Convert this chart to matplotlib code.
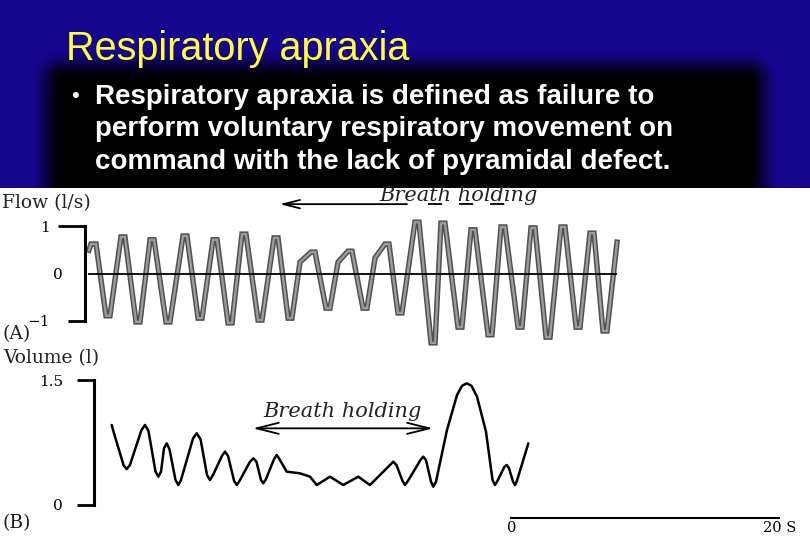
import numpy as np
import matplotlib
matplotlib.use("Agg")
import matplotlib.pyplot as plt
from matplotlib import patheffects as pe
from matplotlib.ticker import FixedLocator, FixedFormatter

# ---------------- data ----------------
title = "Respiratory apraxia"
bullet_lines = [
    "Respiratory apraxia is defined as failure to",
    "perform voluntary respiratory movement on",
    "command with the lack of pyramidal defect.",
]

# (A) airflow trace, time in s, flow in l/s
flow_t = [0.07, 0.22, 0.60, 1.34, 1.64, 2.46, 2.76, 3.58, 3.88, 4.63, 4.93, 5.82, 6.12,
          7.09, 7.39, 8.21, 8.51, 9.33, 9.63, 10.45, 10.75, 11.49, 11.79, 12.69, 12.99,
          13.88, 14.18, 14.93, 15.22, 15.82, 16.64, 16.94, 17.76, 18.06, 18.66, 19.40,
          19.70, 20.52, 20.82, 21.42, 22.16, 22.46, 23.13, 23.43, 24.40, 24.70, 25.60,
          25.90, 26.34, 26.64, 27.61, 27.91, 28.58, 28.88, 29.85, 30.15, 30.82, 31.12,
          32.09, 32.39, 33.06, 33.36, 34.18, 34.48, 35.30, 35.60, 36.42, 36.72, 37.46,
          37.76, 38.43, 38.73, 39.48]
flow_v = [0.49, 0.62, 0.62, -0.89, -0.89, 0.77, 0.77, -1.02, -1.02, 0.71, 0.71, -1.02, -1.02,
          0.79, 0.79, -0.94, -0.94, 0.71, 0.71, -1.04, -1.04, 0.83, 0.83, -0.98, -0.98,
          0.75, 0.75, -0.94, -0.94, 0.24, 0.45, 0.45, -0.73, -0.73, 0.24, 0.47,
          0.47, -0.73, -0.73, 0.33, 0.62, 0.62, -0.83, -0.83, 1.08, 1.08, -1.46,
          -1.46, 1.06, 1.06, -1.13, -1.13, 0.92, 0.92, -1.29, -1.29, 0.98, 0.98,
          -1.13, -1.13, 0.96, 0.96, -1.34, -1.34, 0.98, 0.98, -1.13, -1.13, 0.85,
          0.85, -1.21, -1.21, 0.66]

# (B) volume trace, time in s, volume in l
vol_t = [1.77, 1.94, 2.65, 2.89, 3.13, 3.99, 4.25, 4.51, 5.04, 5.25, 5.45, 5.67, 5.87,
         6.08, 6.53, 6.74, 6.94, 7.84, 8.11, 8.40, 8.88, 9.10, 9.33, 10.00, 10.22,
         10.45, 10.90, 11.10, 11.31, 12.09, 12.34, 12.57, 12.91, 13.08, 13.28, 13.88,
         14.08, 14.29, 14.83, 15.82, 16.57, 17.07, 18.06, 19.05, 20.17, 21.04, 22.54,
         22.78, 23.02, 23.47, 23.66, 23.88, 24.81, 25.02, 25.22, 25.60, 25.77, 25.97,
         26.79, 27.54, 27.91, 28.26, 28.62, 29.03, 29.70, 30.19, 30.37, 30.56, 31.08,
         31.25, 31.42, 31.72, 31.87, 32.01, 32.86]
vol_v = [0.96, 0.86, 0.48, 0.43, 0.48, 0.90, 0.96, 0.89, 0.40, 0.34, 0.40, 0.68, 0.74,
         0.67, 0.30, 0.24, 0.30, 0.80, 0.86, 0.79, 0.36, 0.30, 0.36, 0.59, 0.64,
         0.59, 0.29, 0.24, 0.29, 0.52, 0.56, 0.52, 0.30, 0.26, 0.31, 0.55,
         0.60, 0.55, 0.40, 0.38, 0.34, 0.24, 0.34, 0.24, 0.34, 0.24, 0.48,
         0.52, 0.48, 0.29, 0.24, 0.29, 0.54, 0.58, 0.54, 0.28, 0.22, 0.28,
         0.90, 1.32, 1.43, 1.46, 1.43, 1.30, 0.88, 0.30, 0.24, 0.29, 0.46,
         0.48, 0.44, 0.28, 0.24, 0.29, 0.74]

flow_major_ticks = [1]
flow_major_labels = ["1"]
flow_minor_ticks = [-1, 0]
flow_minor_labels = ["\u22121", "0"]
vol_ticks = [0, 1.5]
vol_tick_labels = ["0", "1.5"]

hold_flow_arrow = (23.8, 14.3)   # arrow (from, to) in s
hold_flow_dash = (25.4, 31.5)    # dashed continuation in s
hold_flow_level = 1.46
hold_vol = (12.3, 25.75)
hold_vol_level = 0.92
scale_start = 31.6
scale_len = 20
scale_labels = ["0", "20 S"]

# ---------------- layout helpers ----------------
W, H = 810, 540
PX_PER_S = 13.4
T0_PX = 88
SERIF = ["DejaVu Serif"]
SANS = ["Liberation Sans", "DejaVu Sans"]

fig = plt.figure(figsize=(8.1, 5.4), dpi=100)
fig.patch.set_facecolor("white")


def px_axes(left, top, right, bottom):
    return fig.add_axes([left / W, 1 - bottom / H, (right - left) / W, (bottom - top) / H])


# ---------------- slide background ----------------
bg = px_axes(0, 0, W, H)
yy, xx = np.mgrid[0:188, 0:W] + 0.5
dx = np.maximum(np.maximum(62 - xx, xx - 748), 0)
dy = np.maximum(80 - yy, 0)
k = np.clip(1 - np.hypot(dx, dy) / 32.0, 0, 1)
k = k * k * (3 - 2 * k)
blue = np.array([0.09, 0.02, 0.56])
img = (1 - k)[..., None] * blue
bg.imshow(img, extent=(0, W, 188, 0), interpolation="bilinear", aspect="auto", zorder=0)
bg.set_xlim(0, W)
bg.set_ylim(H, 0)
bg.axis("off")

bg.text(66, 60, title, color="#ffff3c", fontsize=28.5, family=SANS, va="baseline", ha="left")
bg.text(75, 97, "\u2022", color="white", fontsize=16, family=SANS, va="center", ha="center")
for i, line in enumerate(bullet_lines):
    bg.text(95, 104 + 32.5 * i, line, color="white", fontsize=20, weight="bold",
            family=SANS, va="baseline", ha="left")

lab_kw = dict(family=SERIF, fontsize=13.5, color="#222222", va="center", ha="left")
bg.text(2, 203, "Flow (l/s)", **lab_kw)
bg.text(3, 334, "(A)", **lab_kw)
bg.text(3, 358, "Volume (l)", **lab_kw)
bg.text(3, 523, "(B)", **lab_kw)

# ---------------- panel A: flow ----------------
A_ZERO_PX, A_PX_PER_UNIT = 273.5, 47.5
a_left, a_right, a_top, a_bot = 85, 640, 185, 350
axA = px_axes(a_left, a_top, a_right, a_bot)
axA.set_xlim((a_left - T0_PX) / PX_PER_S, (a_right - T0_PX) / PX_PER_S)
axA.set_ylim((A_ZERO_PX - a_bot) / A_PX_PER_UNIT, (A_ZERO_PX - a_top) / A_PX_PER_UNIT)
axA.patch.set_alpha(0)
for s in ("top", "right", "bottom"):
    axA.spines[s].set_visible(False)
axA.spines["left"].set_bounds(-1, 1)
axA.spines["left"].set_linewidth(2.2)
axA.set_xticks([])
axA.yaxis.set_major_locator(FixedLocator(flow_major_ticks))
axA.yaxis.set_major_formatter(FixedFormatter(flow_major_labels))
axA.yaxis.set_minor_locator(FixedLocator(flow_minor_ticks))
axA.yaxis.set_minor_formatter(FixedFormatter(flow_minor_labels))
axA.tick_params(axis="y", which="major", length=27 * 0.72, width=2, pad=6,
                labelsize=11, labelfontfamily=SERIF[0])
axA.tick_params(axis="y", which="minor", length=17 * 0.72, width=2, pad=13,
                labelsize=11, labelfontfamily=SERIF[0])
minor = axA.yaxis.get_minor_ticks()
minor[1].tick1line.set_visible(False)
minor[1].set_pad(4)

axA.plot(flow_t, flow_v, color="#9c9c9c", lw=1.7, solid_joinstyle="miter",
         path_effects=[pe.Stroke(linewidth=3.9, foreground="#505050"), pe.Normal()], zorder=2)
axA.hlines(0, 0, flow_t[-1], color="black", lw=1.3, zorder=3)

axA.annotate("", xy=(hold_flow_arrow[1], hold_flow_level),
             xytext=(hold_flow_arrow[0], hold_flow_level),
             arrowprops=dict(arrowstyle="->,head_length=1.2,head_width=0.3", lw=1.3,
                             color="black", shrinkA=0, shrinkB=0))
axA.plot(hold_flow_dash, [hold_flow_level] * 2, color="black", lw=1.3, ls=(0, (7.8, 9.4)))
axA.text(sum(hold_flow_arrow[:1] + hold_flow_dash[1:]) / 2, 1.64, "Breath holding",
         family=SERIF, style="italic", fontsize=15, ha="center", va="center", color="#222222")

# ---------------- panel B: volume ----------------
B_ZERO_PX, B_PX_PER_UNIT = 505, 125 / 1.5
b_left, b_right, b_top, b_bot = 94, 805, 370, 535
axB = px_axes(b_left, b_top, b_right, b_bot)
axB.set_xlim((b_left - T0_PX) / PX_PER_S, (b_right - T0_PX) / PX_PER_S)
axB.set_ylim((B_ZERO_PX - b_bot) / B_PX_PER_UNIT, (B_ZERO_PX - b_top) / B_PX_PER_UNIT)
axB.patch.set_alpha(0)
for s in ("top", "right"):
    axB.spines[s].set_visible(False)
axB.spines["left"].set_bounds(0, 1.5)
axB.spines["left"].set_linewidth(2.2)
axB.set_yticks(vol_ticks)
axB.set_yticklabels(vol_tick_labels)
axB.tick_params(axis="y", length=17 * 0.72, width=2, pad=10, labelsize=11,
                labelfontfamily=SERIF[0])

# time scale bar as bottom spine
axB.spines["bottom"].set_position(("data", -0.156))
axB.spines["bottom"].set_bounds(scale_start, scale_start + scale_len)
axB.spines["bottom"].set_linewidth(1.5)
axB.set_xticks([scale_start, scale_start + scale_len])
axB.set_xticklabels(scale_labels)
axB.tick_params(axis="x", length=0, pad=2.5, labelsize=10.5, labelfontfamily=SERIF[0])

axB.plot(vol_t, vol_v, color="black", lw=1.8, solid_joinstyle="round",
         solid_capstyle="round", zorder=2)
axB.annotate("", xy=(hold_vol[0], hold_vol_level), xytext=(hold_vol[1], hold_vol_level),
             arrowprops=dict(arrowstyle="<->,head_length=1.6,head_width=0.4", lw=1.3,
                             color="black", shrinkA=0, shrinkB=0))
axB.text(sum(hold_vol) / 2, 1.12, "Breath holding", family=SERIF, style="italic",
         fontsize=15, ha="center", va="center", color="#222222")

fig.savefig("out.png", dpi=100, facecolor=fig.get_facecolor())
